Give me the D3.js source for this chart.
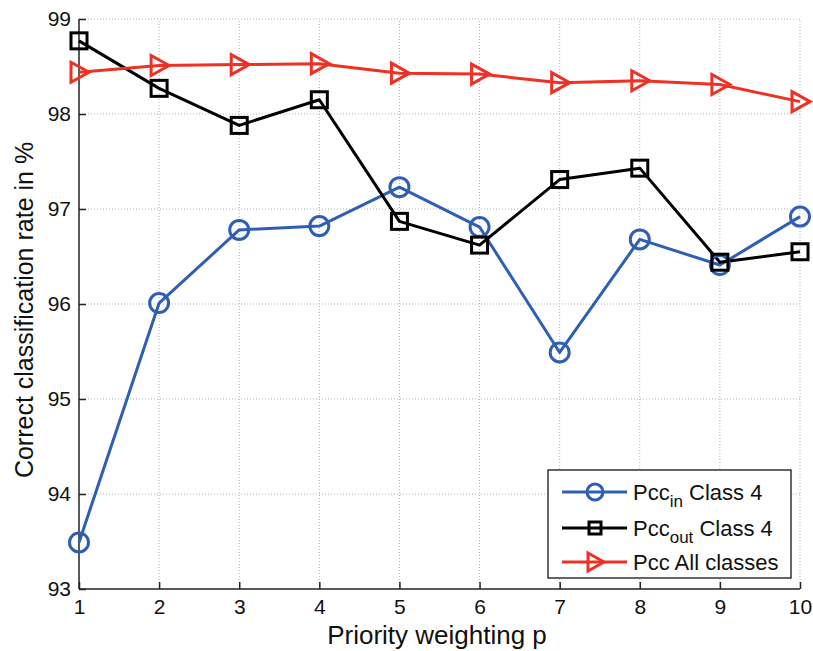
<!DOCTYPE html>
<html><head><meta charset="utf-8">
<script src="https://cdn.jsdelivr.net/npm/d3@7"></script>
<style>body{margin:0;background:#fff}svg{display:block}text{font-family:"Liberation Sans",Arial,sans-serif}</style>
</head><body>
<svg id="c" width="813" height="651"></svg>
<script>
const pValues = [1,2,3,4,5,6,7,8,9,10];
const pccIn = [93.49,96.01,96.78,96.82,97.23,96.81,95.49,96.68,96.41,96.92];
const pccOut = [98.77,98.27,97.88,98.15,96.87,96.62,97.31,97.43,96.44,96.55];
const pccAll = [98.44,98.51,98.52,98.53,98.43,98.42,98.33,98.35,98.31,98.13];
const yTicks = [93,94,95,96,97,98,99];
const seriesNames = ["Pcc|in| Class 4","Pcc|out| Class 4","Pcc All classes"];

const svg = d3.select("#c");
const x = d3.scaleLinear().domain([1,10]).range([79,800]);
const y = d3.scaleLinear().domain([93,99]).range([589,19]);

// grid
const grid = svg.append("g");
grid.selectAll("line.v").data(pValues.slice(1)).join("line")
  .attr("x1",d=>x(d)).attr("x2",d=>x(d)).attr("y1",y(93)).attr("y2",y(99))
  .attr("stroke","#a9b4c6").attr("stroke-width",1).attr("stroke-dasharray","1,2");
grid.selectAll("line.h").data(yTicks.slice(1)).join("line")
  .attr("x1",x(1)).attr("x2",x(10)).attr("y1",d=>y(d)).attr("y2",d=>y(d))
  .attr("stroke","#a9b4c6").attr("stroke-width",1).attr("stroke-dasharray","1,2");

// axes
const xAxis = d3.axisBottom(x).tickValues(pValues).tickSize(-7).tickPadding(18).tickFormat(d3.format("d"));
const yAxis = d3.axisLeft(y).tickValues(yTicks).tickSize(-7).tickPadding(8).tickFormat(d3.format("d"));
const gx = svg.append("g").attr("transform",`translate(0,${y(93)})`).call(xAxis);
const gy = svg.append("g").attr("transform",`translate(${x(1)},0)`).call(yAxis);
[gx,gy].forEach(g=>{
  g.select(".domain").attr("stroke","#222").attr("stroke-width",1.5);
  g.selectAll(".tick line").attr("stroke","#222").attr("stroke-width",1.5);
  g.selectAll(".tick text").attr("font-size",21).attr("fill","#111").attr("font-family","Liberation Sans, Arial, sans-serif");
});
gx.select(".domain").attr("d",`M${x(1)},0H${x(10)}`);
gy.select(".domain").attr("d",`M0,${y(93)}V${y(99)}`);
gx.selectAll(".tick text").attr("y",25).attr("dy","0");

// titles
svg.append("text").attr("x",437).attr("y",644).attr("text-anchor","middle").attr("font-size",26).attr("fill","#111").text("Priority weighting p");
svg.append("text").attr("transform","translate(33,310) rotate(-90)").attr("text-anchor","middle").attr("font-size",25).attr("fill","#111").text("Correct classification rate in %");

const colors = ["#2f5fb5","#000000","#ee3124"];
const data = [pccIn,pccOut,pccAll];
const line = d3.line().x((d,i)=>x(pValues[i])).y(d=>y(d));

function marker(g,type,color){
  if(type===0) g.append("circle").attr("r",9.5).attr("fill","none").attr("stroke",color).attr("stroke-width",3);
  else if(type===1) g.append("rect").attr("x",-8).attr("y",-8).attr("width",16).attr("height",16).attr("fill","none").attr("stroke",color).attr("stroke-width",3);
  else g.append("path").attr("d","M-8,-10L10,0L-8,10Z").attr("fill","none").attr("stroke",color).attr("stroke-width",3).attr("stroke-linejoin","miter");
}

data.forEach((vals,k)=>{
  svg.append("path").datum(vals).attr("d",line).attr("fill","none").attr("stroke",colors[k]).attr("stroke-width",3).attr("stroke-linejoin","round");
});
data.forEach((vals,k)=>{
  vals.forEach((v,i)=>{
    const g = svg.append("g").attr("transform",`translate(${x(pValues[i])},${y(v)})`);
    marker(g,k,colors[k]);
  });
});

// legend
const lg = svg.append("g");
lg.append("rect").attr("x",548).attr("y",470).attr("width",243).attr("height",108).attr("fill","#fff").attr("stroke","#000").attr("stroke-width",1.2);
const rows = [492,528,562];
seriesNames.forEach((name,k)=>{
  const yy = rows[k];
  lg.append("line").attr("x1",562).attr("x2",627).attr("y1",yy).attr("y2",yy).attr("stroke",colors[k]).attr("stroke-width",3);
  const g = lg.append("g").attr("transform",`translate(595,${yy})`);
  if(k===0) g.append("circle").attr("r",8).attr("fill","none").attr("stroke",colors[k]).attr("stroke-width",3);
  else if(k===1) g.append("rect").attr("x",-6).attr("y",-6).attr("width",12).attr("height",12).attr("fill","none").attr("stroke",colors[k]).attr("stroke-width",3);
  else g.append("path").attr("d","M-7,-9L9,0L-7,9Z").attr("fill","none").attr("stroke",colors[k]).attr("stroke-width",3);
  const parts = name.split("|");
  const t = lg.append("text").attr("x",633).attr("y",yy+8).attr("font-size",22).attr("fill","#111");
  if(parts.length===3){
    t.append("tspan").text(parts[0]);
    t.append("tspan").attr("font-size",17).attr("dy",7).text(parts[1]);
    t.append("tspan").attr("dy",-7).text(parts[2]);
  } else t.text(name);
});
</script>
</body></html>
